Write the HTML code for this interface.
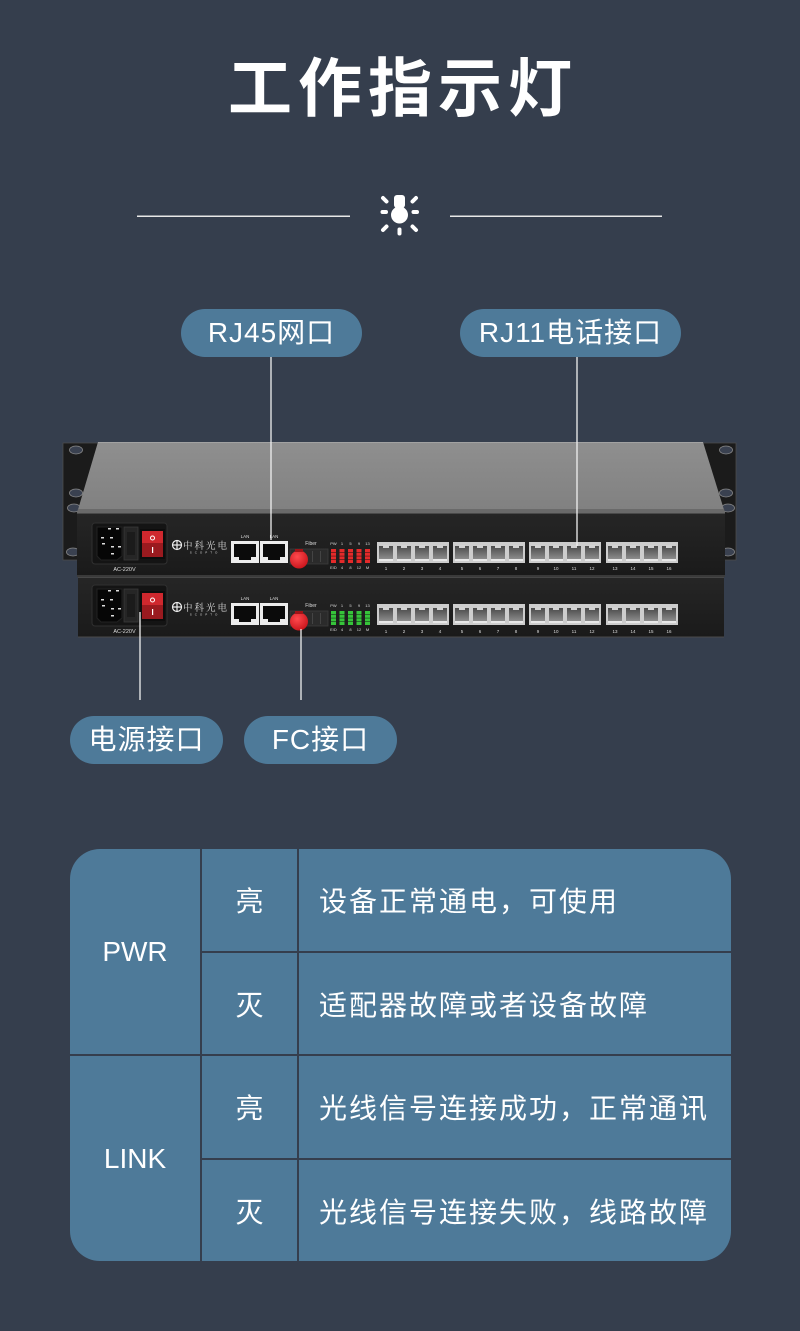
<!DOCTYPE html>
<html><head><meta charset="utf-8">
<style>
*{box-sizing:border-box}
body{margin:0;width:800px;height:1331px;background:#353e4d;position:relative;overflow:hidden;font-family:"Liberation Sans","Noto Sans CJK SC",sans-serif;color:#fff}
.title{position:absolute;left:0;top:57px;width:800px;text-align:center;font-weight:700;font-size:64px;line-height:64px;letter-spacing:6px;padding-left:6px}
.pill{position:absolute;height:48px;border-radius:24px;background:#4e7a99;color:#fff;font-size:28px;line-height:48px;text-align:center;letter-spacing:1px;white-space:nowrap}
.tbl{position:absolute;left:70px;top:849px;width:661px;height:412px;border-radius:30px;background:#4e7a99;overflow:hidden}
.ln{position:absolute;background:#353e4d}
.c{position:absolute;display:flex;align-items:center;font-size:28px;white-space:nowrap}
.cc{justify-content:center}
.d{letter-spacing:2px}
</style></head><body>

<div class="title">工作指示灯</div>

<svg width="800" height="700" style="position:absolute;left:0;top:0" xmlns="http://www.w3.org/2000/svg">
<defs>
 <linearGradient id="lid" x1="0" y1="0" x2="0" y2="1"><stop offset="0" stop-color="#8f8f8f"/><stop offset="1" stop-color="#808080"/></linearGradient>
 <linearGradient id="face" x1="0" y1="0" x2="0" y2="1"><stop offset="0" stop-color="#262626"/><stop offset="1" stop-color="#1a1a1a"/></linearGradient>
 <linearGradient id="rjin" x1="0" y1="0" x2="0" y2="1"><stop offset="0" stop-color="#4a4a4a"/><stop offset="1" stop-color="#8c8c8c"/></linearGradient>
 <radialGradient id="fc" cx="0.4" cy="0.35" r="0.7"><stop offset="0" stop-color="#ff4a4e"/><stop offset="1" stop-color="#c8141b"/></radialGradient>
 <g id="rjp">
  <rect x="2" y="4" width="14" height="13" fill="url(#rjin)"/>
  <rect x="6" y="3" width="6" height="3" fill="#d2d2d2"/>
  <rect x="2" y="17" width="14" height="2" fill="#e8e8e8"/>
 </g>
 <g id="rjg">
  <rect width="72" height="21" fill="#cdcdcd"/>
  <use href="#rjp"/><use href="#rjp" x="18"/><use href="#rjp" x="36"/><use href="#rjp" x="54"/>
 </g>
 <g id="lan">
  <rect width="28" height="22" fill="#ececec"/>
  <rect x="3" y="3" width="22" height="13" fill="#0b0b0b"/>
  <rect x="8" y="16" width="12" height="3" fill="#0b0b0b"/>
 </g>
 <g id="fg">
  <rect x="92" y="523" width="75" height="41" rx="3" fill="#141414" stroke="#303030"/>
  <path d="M97,527 L122,527 L122,556 L117,560 L101,560 L97,556 Z" fill="#060606" stroke="#222"/>
  <rect x="108" y="528" width="3" height="1.5" fill="#ddd"/>
  <rect x="116" y="528" width="3" height="1.5" fill="#ddd"/>
  <rect x="101" y="537" width="3" height="1.5" fill="#ddd"/>
  <rect x="110" y="537" width="3" height="1.5" fill="#ddd"/>
  <rect x="102" y="543" width="3" height="1.5" fill="#ddd"/>
  <rect x="111" y="546" width="3" height="1.5" fill="#ddd"/>
  <rect x="118" y="546" width="3" height="1.5" fill="#ddd"/>
  <rect x="111" y="553" width="3" height="1.5" fill="#ddd"/>
  <rect x="124" y="527" width="14" height="33" fill="#262626" stroke="#3a3a3a" stroke-width="0.8"/>
  <rect x="127" y="532" width="8" height="23" fill="#1b1b1b"/>
  <rect x="140" y="529" width="25" height="30" fill="#0d0d0d"/>
  <rect x="142" y="531" width="21" height="26" fill="#9a1a1f"/>
  <rect x="142" y="531" width="21" height="12" fill="#cf282e"/>
  <circle cx="152.5" cy="538" r="2" fill="none" stroke="#fff" stroke-width="1"/>
  <rect x="152" y="547" width="1.2" height="6" fill="#fff"/>
  <circle cx="177" cy="545" r="4.5" fill="none" stroke="#eee" stroke-width="1.2"/>
  <rect x="172.5" y="544.4" width="9" height="1.2" fill="#eee"/>
  <rect x="176.4" y="540.5" width="1.2" height="9" fill="#eee"/>
  <use href="#lan" x="231" y="541"/>
  <use href="#lan" x="260" y="541"/>
  <rect x="290" y="549" width="38" height="15" fill="#2b2b2b" stroke="#3c3c3c" stroke-width="0.8"/>
  <rect x="312" y="551" width="1" height="11" fill="#444"/>
  <rect x="320" y="551" width="1" height="11" fill="#444"/>
  <circle cx="299" cy="559.5" r="9" fill="url(#fc)"/>
  <rect x="295" y="549" width="8" height="3" fill="#a01418"/>
  <use href="#rjg" x="377" y="542"/>
  <use href="#rjg" x="453" y="542"/>
  <use href="#rjg" x="529" y="542"/>
  <use href="#rjg" x="606" y="542"/>
 </g>
 <g id="ledc">
  <rect width="5" height="14" fill="currentColor"/>
  <rect y="3.2" width="5" height="0.8" fill="#111" opacity=".6"/>
  <rect y="6.7" width="5" height="0.8" fill="#111" opacity=".6"/>
  <rect y="10.2" width="5" height="0.8" fill="#111" opacity=".6"/>
 </g>
</defs>

<rect x="137" y="215.5" width="213" height="1.5" fill="#e8e8e8"/>
<rect x="450" y="215.5" width="212" height="1.5" fill="#e8e8e8"/>
<g fill="#fff" stroke="#fff" stroke-linecap="round">
 <rect x="394" y="195" width="11" height="13" rx="3" stroke="none"/>
 <circle cx="399.5" cy="215" r="8.5" stroke="none"/>
 <g stroke-width="4" fill="none">
  <line x1="382.5" y1="212" x2="386" y2="212"/>
  <line x1="413.5" y1="212" x2="417" y2="212"/>
  <line x1="383" y1="198" x2="386.5" y2="201.5"/>
  <line x1="416" y1="198" x2="412.5" y2="201.5"/>
  <line x1="383" y1="230" x2="386.5" y2="226.5"/>
  <line x1="416" y1="230" x2="412.5" y2="226.5"/>
  <line x1="399.5" y1="229.5" x2="399.5" y2="233.5"/>
 </g>
</g>

<path d="M63,443 L102,443 L102,560 L63,560 Z" fill="#1b1b1b" stroke="#4c4c4c" stroke-width="0.8"/>
<path d="M698,443 L736,443 L736,560 L698,560 Z" fill="#1b1b1b" stroke="#4c4c4c" stroke-width="0.8"/>
<g fill="#3a4150" stroke="#8a8a8a" stroke-width="0.8">
 <ellipse cx="76" cy="450" rx="6.5" ry="4"/>
 <ellipse cx="76" cy="493" rx="6.5" ry="4"/>
 <ellipse cx="74" cy="508" rx="6.5" ry="4"/>
 <ellipse cx="73" cy="552" rx="6.5" ry="4"/>
 <ellipse cx="726" cy="450" rx="6.5" ry="4"/>
 <ellipse cx="726" cy="493" rx="6.5" ry="4"/>
 <ellipse cx="728" cy="508" rx="6.5" ry="4"/>
 <ellipse cx="728" cy="552" rx="6.5" ry="4"/>
</g>
<polygon points="98,442 703,442 725,513 77,513" fill="url(#lid)"/>
<line x1="98" y1="442.5" x2="703" y2="442.5" stroke="#a2a2a2" stroke-width="1"/>
<polygon points="78,509 724,509 725,513 77,513" fill="#6a6a6a"/>
<rect x="77" y="513" width="648" height="62" fill="url(#face)"/>
<line x1="77" y1="513.5" x2="725" y2="513.5" stroke="#4a4a4a"/>
<rect x="77" y="575" width="648" height="2" fill="#3a3a3a"/>
<rect x="78" y="577" width="646" height="60" fill="url(#face)"/>
<line x1="78" y1="577.5" x2="724" y2="577.5" stroke="#474747"/>
<line x1="78" y1="637" x2="724" y2="637" stroke="#4a4a4a"/>

<use href="#fg"/>
<use href="#fg" y="62"/>

<g color="#e42a2a">
 <use href="#ledc" x="331" y="549"/><use href="#ledc" x="339.5" y="549"/><use href="#ledc" x="348" y="549"/><use href="#ledc" x="356.5" y="549"/><use href="#ledc" x="365" y="549"/>
</g>
<g color="#36c43a">
 <use href="#ledc" x="331" y="611"/><use href="#ledc" x="339.5" y="611"/><use href="#ledc" x="348" y="611"/><use href="#ledc" x="356.5" y="611"/><use href="#ledc" x="365" y="611"/>
</g>

<g fill="#dcdcdc" font-family="Liberation Sans, sans-serif" text-anchor="middle">
 <text x="124.5" y="571" font-size="5.5">AC-220V</text>
 <text x="245" y="538" font-size="4.5">LAN</text>
 <text x="274" y="538" font-size="4.5">LAN</text>
 <text x="311" y="545" font-size="5">Fiber</text>
 <g font-size="4"><text x="333.5" y="545">PW</text><text x="342" y="545">1</text><text x="350.5" y="545">5</text><text x="359" y="545">9</text><text x="367.5" y="545">13</text>
 <text x="333.5" y="569">E/D</text><text x="342" y="569">4</text><text x="350.5" y="569">8</text><text x="359" y="569">12</text><text x="367.5" y="569">M</text></g>
 <g font-size="4.5"><text x="386" y="570">1</text><text x="404" y="570">2</text><text x="422" y="570">3</text><text x="440" y="570">4</text><text x="462" y="570">5</text><text x="480" y="570">6</text><text x="498" y="570">7</text><text x="516" y="570">8</text><text x="538" y="570">9</text><text x="556" y="570">10</text><text x="574" y="570">11</text><text x="592" y="570">12</text><text x="615" y="570">13</text><text x="633" y="570">14</text><text x="651" y="570">15</text><text x="669" y="570">16</text></g>
 <text x="206" y="549" font-size="9.5" font-family="Liberation Serif, Noto Serif CJK SC, serif" letter-spacing="2">中科光电</text>
 <text x="205" y="553.5" font-size="3" letter-spacing="3">SCOPTO</text>
</g>
<g fill="#dcdcdc" font-family="Liberation Sans, sans-serif" text-anchor="middle">
 <text x="124.5" y="633" font-size="5.5">AC-220V</text>
 <text x="245" y="600" font-size="4.5">LAN</text>
 <text x="274" y="600" font-size="4.5">LAN</text>
 <text x="311" y="607" font-size="5">Fiber</text>
 <g font-size="4"><text x="333.5" y="607">PW</text><text x="342" y="607">1</text><text x="350.5" y="607">5</text><text x="359" y="607">9</text><text x="367.5" y="607">13</text>
 <text x="333.5" y="631">E/D</text><text x="342" y="631">4</text><text x="350.5" y="631">8</text><text x="359" y="631">12</text><text x="367.5" y="631">M</text></g>
 <g font-size="4.5"><text x="386" y="633">1</text><text x="404" y="633">2</text><text x="422" y="633">3</text><text x="440" y="633">4</text><text x="462" y="633">5</text><text x="480" y="633">6</text><text x="498" y="633">7</text><text x="516" y="633">8</text><text x="538" y="633">9</text><text x="556" y="633">10</text><text x="574" y="633">11</text><text x="592" y="633">12</text><text x="615" y="633">13</text><text x="633" y="633">14</text><text x="651" y="633">15</text><text x="669" y="633">16</text></g>
 <text x="206" y="611" font-size="9.5" font-family="Liberation Serif, Noto Serif CJK SC, serif" letter-spacing="2">中科光电</text>
 <text x="205" y="615.5" font-size="3" letter-spacing="3">SCOPTO</text>
</g>

<g stroke="#f0f0f0" stroke-width="1.3">
 <line x1="271" y1="357" x2="271" y2="540"/>
 <line x1="577" y1="357" x2="577" y2="546"/>
 <line x1="140" y1="612" x2="140" y2="716"/>
 <line x1="301" y1="629" x2="301" y2="716"/>
</g>
</svg>

<div class="pill" style="left:181px;top:309px;width:181px">RJ45网口</div>
<div class="pill" style="left:460px;top:309px;width:221px">RJ11电话接口</div>
<div class="pill" style="left:70px;top:716px;width:153px">电源接口</div>
<div class="pill" style="left:244px;top:716px;width:153px">FC接口</div>

<div class="tbl">
 <div class="ln" style="left:130px;top:0;width:2px;height:412px"></div>
 <div class="ln" style="left:227px;top:0;width:2px;height:412px"></div>
 <div class="ln" style="left:130px;top:102px;width:531px;height:2px"></div>
 <div class="ln" style="left:0;top:205px;width:661px;height:2px"></div>
 <div class="ln" style="left:130px;top:309px;width:531px;height:2px"></div>

 <div class="c cc" style="left:0;top:0;width:130px;height:205px">PWR</div>
 <div class="c cc" style="left:0;top:207px;width:130px;height:205px">LINK</div>

 <div class="c cc" style="left:132px;top:0;width:95px;height:102px">亮</div>
 <div class="c cc" style="left:132px;top:104px;width:95px;height:101px">灭</div>
 <div class="c cc" style="left:132px;top:207px;width:95px;height:102px">亮</div>
 <div class="c cc" style="left:132px;top:311px;width:95px;height:101px">灭</div>

 <div class="c d" style="left:249px;top:0;height:102px">设备正常通电，可使用</div>
 <div class="c d" style="left:249px;top:104px;height:101px">适配器故障或者设备故障</div>
 <div class="c d" style="left:249px;top:207px;height:102px">光线信号连接成功，正常通讯</div>
 <div class="c d" style="left:249px;top:311px;height:101px">光线信号连接失败，线路故障</div>
</div>

</body></html>
